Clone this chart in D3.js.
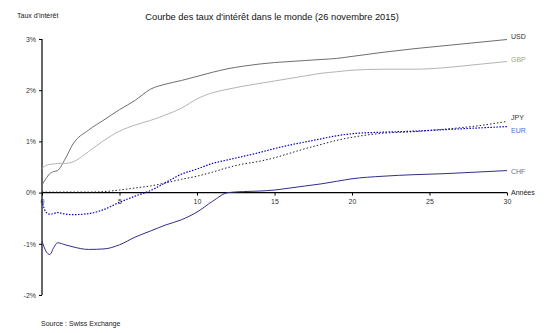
<!DOCTYPE html>
<html><head><meta charset="utf-8">
<script src="https://cdn.jsdelivr.net/npm/d3@7"></script>
<style>body{margin:0;background:#fff;}svg{display:block;font-family:"Liberation Sans",Arial,sans-serif;}</style>
</head><body>
<svg id="c" width="544" height="333"></svg>
<script>
const maturities = [0,0.25,0.5,0.75,1,1.5,2,3,4,5,6,7,8,9,10,11,12,13,14,15,16,17,18,19,20,22,24,26,28,30];
const usd = [0.15,0.27,0.37,0.41,0.43,0.66,0.95,1.22,1.42,1.62,1.8,2.02,2.12,2.19,2.27,2.35,2.42,2.47,2.51,2.54,2.56,2.58,2.6,2.62,2.66,2.74,2.81,2.87,2.93,2.99];
const gbp = [0.47,0.53,0.55,0.56,0.57,0.57,0.6,0.8,1.02,1.2,1.32,1.41,1.52,1.65,1.83,1.95,2.02,2.08,2.13,2.18,2.23,2.28,2.33,2.36,2.39,2.41,2.41,2.44,2.5,2.56];
const jpy = [0.01,0.01,0.01,0.01,0.01,0.01,0.01,0.01,0.02,0.05,0.09,0.13,0.19,0.26,0.32,0.4,0.49,0.56,0.61,0.68,0.77,0.86,0.94,1.02,1.08,1.16,1.19,1.24,1.3,1.39];
const eur = [-0.16,-0.38,-0.42,-0.41,-0.39,-0.42,-0.43,-0.41,-0.33,-0.19,-0.07,0.04,0.2,0.36,0.46,0.57,0.64,0.71,0.78,0.86,0.93,0.99,1.05,1.11,1.15,1.18,1.2,1.23,1.26,1.29];
const chf = [-0.95,-1.14,-1.21,-1.08,-0.98,-1.02,-1.06,-1.11,-1.1,-1.02,-0.87,-0.75,-0.63,-0.53,-0.38,-0.17,0.0,0.02,0.03,0.05,0.09,0.13,0.17,0.22,0.27,0.32,0.35,0.37,0.4,0.43];
const xTicks = [0,5,10,15,20,25,30];
const yTicks = [3,2,1,0,-1,-2];
const seriesNames = ["USD","GBP","JPY","EUR","CHF"];

const series = [
  {name:"USD", values:usd, color:"#6e6e6e", dash:null, width:1, label:"#333333"},
  {name:"GBP", values:gbp, color:"#b4b4b4", dash:null, width:1, label:"#9aab80"},
  {name:"JPY", values:jpy, color:"#222222", dash:"1.5,2", width:1, label:"#333333"},
  {name:"EUR", values:eur, color:"#0000dd", dash:"1.5,1.5", width:1.2, label:"#3b73e8"},
  {name:"CHF", values:chf, color:"#2e2e8c", dash:null, width:1, label:"#6e6e8a"}
];

const svg = d3.select("#c");
const x = d3.scaleLinear().domain([0,30]).range([42,507]);
const y = d3.scaleLinear().domain([-2,3]).range([295,39]);

svg.append("text").attr("x",272).attr("y",20).attr("text-anchor","middle")
  .attr("font-size",9.3).attr("fill","#111").text("Courbe des taux d'intérêt dans le monde (26 novembre 2015)");
svg.append("text").attr("x",17).attr("y",18).attr("font-size",7).attr("fill","#222").text("Taux d'intérêt");
svg.append("text").attr("x",41).attr("y",326).attr("font-size",7).attr("fill","#222").text("Source : Swiss Exchange");

// y axis
const yAxis = d3.axisLeft(y).tickValues(yTicks).tickSize(3).tickFormat(d=>d+"%");
const gy = svg.append("g").attr("transform","translate(42,0)").call(yAxis);
gy.select(".domain").attr("stroke","#000").attr("stroke-width",1.2).attr("d","M0,39V295");
gy.selectAll("text").attr("font-size",7).attr("fill","#333").attr("font-family","Liberation Sans, Arial, sans-serif").attr("x",-6);

// x axis at 0
const xAxis = d3.axisBottom(x).tickValues(xTicks).tickSize(3).tickFormat(d=>d);
const gx = svg.append("g").attr("transform",`translate(0,${y(0)})`).call(xAxis);
gx.select(".domain").attr("stroke","#000").attr("stroke-width",1.2).attr("d","M42,0H507");
gx.selectAll("text").attr("font-size",7).attr("fill","#333").attr("font-family","Liberation Sans, Arial, sans-serif").attr("y",6);

const line = d3.line().x((d,i)=>x(maturities[i])).y(d=>y(d)).curve(d3.curveMonotoneX);
series.forEach(s=>{
  svg.append("path").attr("d",line(s.values)).attr("fill","none")
    .attr("stroke",s.color).attr("stroke-width",s.width)
    .attr("stroke-dasharray",s.dash);
});

const labelY = {USD:36, GBP:59, JPY:117, EUR:130, CHF:171};
series.forEach(s=>{
  svg.append("text").attr("x",511).attr("y",labelY[s.name]+2.5).attr("font-size",7)
    .attr("fill",s.label).text(s.name);
});
svg.append("text").attr("x",511).attr("y",195).attr("font-size",7).attr("fill","#222").text("Années");
</script>
</body></html>
